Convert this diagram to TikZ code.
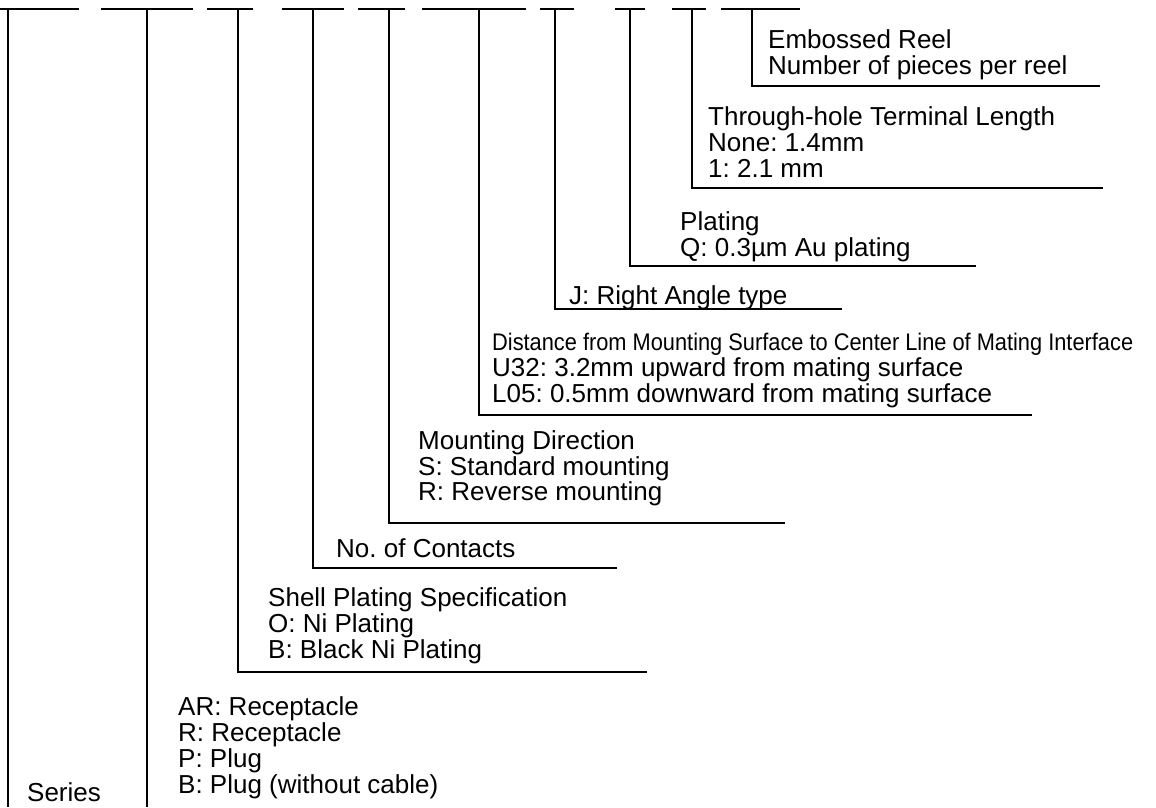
\documentclass[tikz,border=0pt]{standalone}
\usepackage{fontspec}
\setmainfont{Liberation Sans}
\usetikzlibrary{positioning}
\frenchspacing

\begin{document}
\begin{tikzpicture}[x=1pt, y=-1pt,
  every node/.style={font=\fontsize{26}{26}\selectfont, inner sep=0pt, anchor=base west},
  lead/.style={draw, line width=1.8pt},
  cond/.style={font=\fontsize{24}{26}\selectfont}]
\useasboundingbox (0,0) rectangle (1156,807);
% code positions along the top
\coordinate (c1) at (8,9);   \coordinate (c2) at (147,9);
\coordinate (c3) at (238,9); \coordinate (c4) at (313,9);
\coordinate (c5) at (389,9); \coordinate (c6) at (479,9);
\coordinate (c7) at (555,9); \coordinate (c8) at (630,9);
\coordinate (c9) at (692,9); \coordinate (c10) at (752,9);
% labels
\node (emb1) at (768,48) {Embossed Reel};
\node (emb2) at (768,74) {Number of pieces per reel};
\node (thr1) at (708,125) {Through-hole Terminal Length};
\node (thr2) at (708,151) {None: 1.4mm};
\node (thr3) at (708,177) {1: 2.1 mm};
\node (plt1) at (680,230) {Plating};
\node (plt2) at (680,256) {Q: 0.3µm Au plating};
\node (ang) at (569,304) {J: Right Angle type};
\node[cond] (dst1) at (492,350) {\resizebox{641pt}{\height}{Distance from Mounting Surface to Center Line of Mating Interface}};
\node (dst2) at (492,376) {U32: 3.2mm upward from mating surface};
\node (dst3) at (492,402) {L05: 0.5mm downward from mating surface};
\node (mnt1) at (418,449) {Mounting Direction};
\node (mnt2) at (418,475) {S: Standard mounting};
\node (mnt3) at (418,500) {R: Reverse mounting};
\node (cnt) at (336,557) {No. of Contacts};
\node (shl1) at (268,606) {Shell Plating Specification};
\node (shl2) at (268,632) {O: Ni Plating};
\node (shl3) at (268,658) {B: Black Ni Plating};
\node (typ1) at (178,715) {AR: Receptacle};
\node (typ2) at (178,741) {R: Receptacle};
\node (typ3) at (178,767) {P: Plug};
\node (typ4) at (178,793) {B: Plug (without cable)};
\node (ser) at (27,801) {Series};
% top bars
\draw[lead] (0,9) -- (79,9);     \draw[lead] (101,9) -- (193,9);
\draw[lead] (207,9) -- (253,9);  \draw[lead] (282,9) -- (344,9);
\draw[lead] (358,9) -- (405,9);  \draw[lead] (422,9) -- (526,9);
\draw[lead] (540,9) -- (574,9);  \draw[lead] (615,9) -- (645,9);
\draw[lead] (672,9) -- (706,9);  \draw[lead] (721,9) -- (800,9);
% leaders
\draw[lead] (c1) -- (c1 |- 0,807);
\draw[lead] (c2) -- (c2 |- 0,807);
\draw[lead] (c3) |- (647,672);
\draw[lead] (c4) |- (617,568);
\draw[lead] (c5) |- (785,523);
\draw[lead] (c6) |- (1032,415);
\draw[lead] (c7) |- (842,309);
\draw[lead] (c8) |- (976,266);
\draw[lead] (c9) |- (1103,188);
\draw[lead] (c10) |- (1100,86);
\end{tikzpicture}
\end{document}
